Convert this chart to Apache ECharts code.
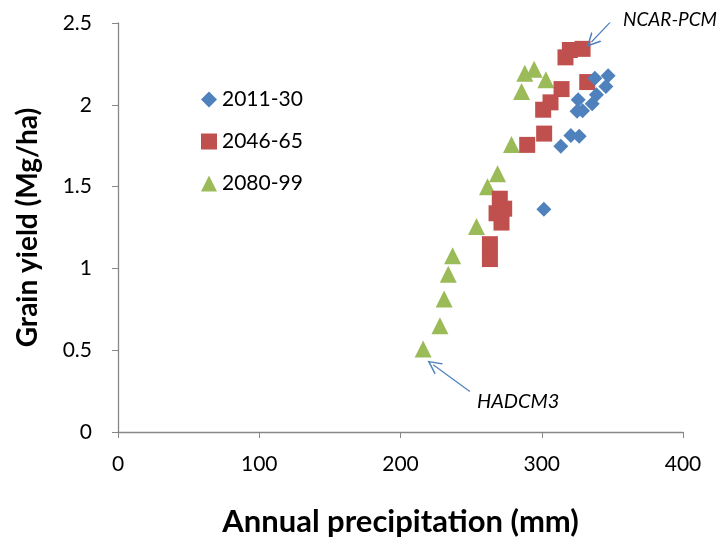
<!DOCTYPE html>
<html>
<head>
<meta charset="utf-8">
<script src="https://cdn.jsdelivr.net/npm/echarts@6/dist/echarts.min.js"></script>
<style>
  html, body { margin: 0; padding: 0; background: #fff; }
  #chart { width: 718px; height: 542px; }
</style>
</head>
<body>
<div id="chart"></div>
<script>
// Annual precipitation (mm) vs grain yield (Mg/ha), by period
const period2011 = [
  [347.0, 2.177], [337.6, 2.163], [345.4, 2.112], [338.7, 2.062],
  [325.8, 2.031], [335.7, 2.007], [325.0, 1.960], [328.9, 1.964],
  [320.6, 1.812], [326.5, 1.808], [313.5, 1.747], [301.5, 1.361]
];
const period2046 = [
  [328.9, 2.342], [319.9, 2.335], [316.8, 2.290], [332.2, 2.139],
  [314.0, 2.096], [306.2, 2.015], [301.0, 1.970], [301.7, 1.824],
  [289.7, 1.755], [270.3, 1.426], [273.4, 1.365], [268.0, 1.337],
  [271.5, 1.280], [263.3, 1.148], [263.3, 1.057]
];
const period2080 = [
  [294.6, 2.218], [288.0, 2.193], [302.9, 2.153], [285.7, 2.082],
  [278.6, 1.757], [268.7, 1.579], [261.6, 1.499], [253.8, 1.256],
  [236.9, 1.077], [233.8, 0.965], [230.9, 0.813], [227.9, 0.650],
  [216.0, 0.508]
];
const seriesNames = ['2011-30', '2046-65', '2080-99'];
const xTicks = [0, 100, 200, 300, 400];
const yTicks = [0, 0.5, 1, 1.5, 2, 2.5];

// Arrows pointing at the wettest and driest model runs (data coordinates)
const arrowNcar = [[351.0, 2.528], [335.2, 2.384]];
const arrowHad = [[249.1, 0.247], [223.1, 0.411]];

const FONT = 'Lato';
const chevron = 'path://M0,10 L5,0 L10,10 L8.8,10 L5,2.4 L1.2,10 Z';

const chart = echarts.init(document.getElementById('chart'), null, { renderer: 'canvas' });

chart.setOption({
  animation: false,
  backgroundColor: '#ffffff',
  grid: { left: 118, right: 35, top: 23, bottom: 108, containLabel: false },
  legend: {
    orient: 'vertical',
    left: 196,
    top: 84,
    itemGap: 21,
    itemWidth: 16,
    itemHeight: 16,
    data: [
      { name: seriesNames[0], icon: 'diamond' },
      { name: seriesNames[1], icon: 'rect' },
      { name: seriesNames[2], icon: 'triangle' }
    ],
    textStyle: { fontFamily: FONT, fontSize: 21, color: '#000' }
  },
  xAxis: {
    type: 'value',
    min: xTicks[0],
    max: xTicks[xTicks.length - 1],
    interval: 100,
    name: 'Annual precipitation (mm)',
    nameLocation: 'middle',
    nameGap: 74,
    nameTextStyle: { fontFamily: FONT, fontSize: 31, fontWeight: 'bold', color: '#000' },
    axisLine: { lineStyle: { color: '#878787', width: 1.3 } },
    axisTick: { show: true, length: 6, lineStyle: { color: '#878787' } },
    axisLabel: { fontFamily: FONT, fontSize: 21, color: '#000', margin: 22 },
    splitLine: { show: false }
  },
  yAxis: {
    type: 'value',
    min: yTicks[0],
    max: yTicks[yTicks.length - 1],
    interval: 0.5,
    name: 'Grain yield (Mg/ha)',
    nameLocation: 'middle',
    nameGap: 76,
    nameTextStyle: { fontFamily: FONT, fontSize: 28, fontWeight: 'bold', color: '#000' },
    axisLine: { show: true, lineStyle: { color: '#878787', width: 1.3 } },
    axisTick: { show: true, length: 6, inside: false, lineStyle: { color: '#878787' } },
    axisLabel: { fontFamily: FONT, fontSize: 21, color: '#000', margin: 26 },
    splitLine: { show: false }
  },
  series: [
    {
      name: seriesNames[0],
      type: 'scatter',
      symbol: 'diamond',
      symbolSize: 15,
      itemStyle: { color: '#4F81BD', opacity: 1 },
      data: period2011,
      z: 3
    },
    {
      name: seriesNames[1],
      type: 'scatter',
      symbol: 'rect',
      symbolSize: 16,
      itemStyle: { color: '#C0504D', opacity: 1 },
      data: period2046,
      z: 2
    },
    {
      name: seriesNames[2],
      type: 'scatter',
      symbol: 'triangle',
      symbolSize: 17,
      itemStyle: { color: '#9BBB59', opacity: 1 },
      data: period2080,
      z: 1
    },
    {
      name: 'arrows',
      type: 'lines',
      coordinateSystem: 'cartesian2d',
      silent: true,
      symbol: ['none', chevron],
      symbolSize: [10, 14],
      lineStyle: { color: '#4F81BD', width: 1.2, opacity: 1, curveness: 0 },
      data: [
        { coords: arrowNcar },
        { coords: arrowHad }
      ],
      z: 5
    }
  ],
  graphic: [
    {
      type: 'text',
      right: 1,
      top: 10,
      style: { text: 'NCAR-PCM', fontFamily: FONT, fontSize: 19, fontStyle: 'italic', fill: '#000' }
    },
    {
      type: 'text',
      left: 477,
      top: 392,
      style: { text: 'HADCM3', fontFamily: FONT, fontSize: 20, fontStyle: 'italic', fill: '#000' }
    }
  ]
});
</script>
</body>
</html>
